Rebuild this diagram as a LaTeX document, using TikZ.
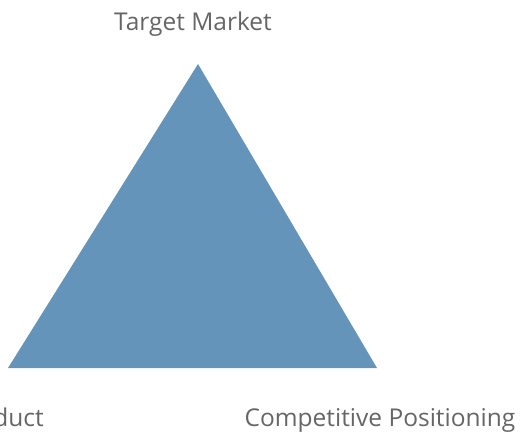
\documentclass[tikz,border=0pt]{standalone}
\usepackage{fontspec}
\setmainfont{Open Sans}
\usepackage{xcolor}
\usepackage{tikz}
\usetikzlibrary{positioning, calc}

\definecolor{triblue}{HTML}{6494BA}
\definecolor{labelgray}{HTML}{666666}

\begin{document}
\begin{tikzpicture}[
    x=1pt, y=1pt,
    corner/.style={text=labelgray, font=\fontsize{24.5}{28}\selectfont, inner sep=0pt},
    wedge/.style={fill=triblue, draw=none}
]
    \useasboundingbox (0,0) rectangle (520,-434);
    \clip (0,0) rectangle (520,-434);

    % Corners
    \coordinate (top) at (198,-64);
    \coordinate (left) at (8,-368);
    \coordinate (right) at (377,-368);

    % Triangle
    \path [wedge] (top) -- (left) -- (right) -- cycle;

    % Labels
    \node [corner, anchor=base] (market) at (193,-30) {Target Market};
    \node [corner, anchor=base east] (product) at (44,-426) {Product};
    \node [corner, anchor=base] (position) at (380,-426) {Competitive Positioning};
\end{tikzpicture}
\end{document}
